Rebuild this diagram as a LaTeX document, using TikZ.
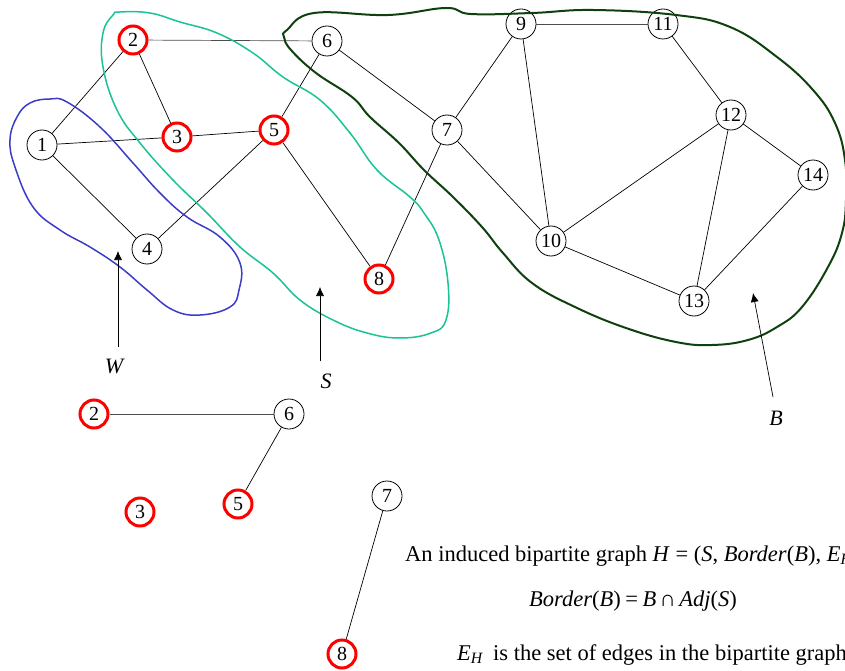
\documentclass[tikz,border=0pt]{standalone}
\usepackage{fontspec}
\setmainfont{Liberation Serif}
\usetikzlibrary{arrows.meta}
\definecolor{wblue}{RGB}{60,60,200}
\definecolor{steal}{RGB}{25,195,150}
\definecolor{bgreen}{RGB}{15,65,15}
\tikzset{
  bg/.style={x=1pt, y=-1pt, font=\fontsize{20}{22}\selectfont},
  g vert/.style={draw, circle, minimum size=30pt, inner sep=0pt, line width=0.8pt, fill=white},
  g cut/.style={g vert, draw=red, line width=3pt, minimum size=28pt},
  g edge/.style={line width=0.7pt},
  g arr/.style={-{Latex[length=9pt, width=8pt]}, line width=0.7pt},
  g set/.style={font=\fontsize{22}{24}\selectfont\itshape, inner sep=0pt},
  g blob/.style={line width=1.5pt, smooth cycle, tension=0.7},
  g txt/.style={font=\fontsize{22.5}{26}\selectfont, inner sep=0pt},
}

\begin{document}
\begin{tikzpicture}[bg]
\useasboundingbox (0,0) rectangle (845,671);
\clip (0,0) rectangle (845,671);
% ---- graph G ----
\node[g vert] (v1)  at (42,145)  {1};
\node[g cut]  (v2)  at (133,40)  {2};
\node[g cut]  (v3)  at (177,137) {3};
\node[g vert] (v4)  at (147,249) {4};
\node[g cut]  (v5)  at (274,130) {5};
\node[g vert] (v6)  at (327,41)  {6};
\node[g vert] (v7)  at (447,130) {7};
\node[g cut]  (v8)  at (379,279) {8};
\node[g vert] (v9)  at (521,24)  {9};
\node[g vert] (v10) at (551,241) {10};
\node[g vert] (v11) at (663,24)  {11};
\node[g vert] (v12) at (731,115) {12};
\node[g vert] (v13) at (694,301) {13};
\node[g vert] (v14) at (813,175) {14};
\draw[g edge, black!70] (v2)--(v6); \draw[g edge] (v2)--(v1); \draw[g edge] (v2)--(v3);
\draw[g edge] (v1)--(v3); \draw[g edge] (v3)--(v5); \draw[g edge] (v1)--(v4);
\draw[g edge] (v4)--(v5); \draw[g edge] (v5)--(v6); \draw[g edge] (v5)--(v8);
\draw[g edge] (v6)--(v7); \draw[g edge] (v7)--(v8); \draw[g edge] (v7)--(v9);
\draw[g edge] (v7)--(v10); \draw[g edge] (v9)--(v10); \draw[g edge, black!70] (v9)--(v11);
\draw[g edge] (v11)--(v12); \draw[g edge] (v12)--(v10); \draw[g edge] (v12)--(v13);
\draw[g edge] (v12)--(v14); \draw[g edge] (v10)--(v13); \draw[g edge] (v13)--(v14);
% ---- sets W, S, B ----
\draw[g blob, wblue] plot coordinates {(50,99) (67,102) (100,127) (133,163) (160,193) (187,217)
  (220,237) (240,263) (239,290) (230,307) (200,315) (173,310) (147,290) (120,267) (90,247)
  (60,230) (33,207) (15,167) (10,140) (17,117) (30,103)};
\draw[g blob, steal] plot coordinates {(120,12) (150,13) (180,22) (217,33) (253,53) (283,77)
  (320,100) (350,133) (377,170) (410,197) (424,213) (439,240) (448,283) (446,320) (431,333)
  (400,338) (367,333) (333,320) (300,300) (273,273) (240,247) (207,213) (173,180) (140,143)
  (117,110) (103,67) (103,33) (113,15)};
\draw[g blob, bgreen, line width=2pt] plot coordinates {(287,30) (314,13) (388,15) (446,8) (471,14)
  (532,13) (593,10) (676,15) (730,27) (777,57) (813,90) (835,123) (845,160) (846,200) (842,233)
  (828,267) (802,307) (777,327) (748,340) (712,345) (676,342) (626,328) (575,307) (532,283)
  (503,253) (482,227) (453,197) (424,170) (399,143) (370,117) (352,97) (316,73) (291,50) (284,37)};
\coordinate (wtail) at (118,347); \coordinate (whead) at (118,251);
\coordinate (stail) at (320,361); \coordinate (shead) at (320,287);
\coordinate (btail) at (773,397); \coordinate (bhead) at (753,293);
\draw[g arr] (wtail)--(whead); \draw[g arr] (stail)--(shead); \draw[g arr] (btail)--(bhead);
\node[g set] (wlab) at (114,366) {W};
\node[g set] (slab) at (326,381) {S};
\node[g set] (blab) at (776,418) {B};
% ---- induced bipartite graph H ----
\node[g cut]  (h2) at (94,414)  {2};
\node[g vert] (h6) at (289,414) {6};
\node[g cut]  (h5) at (238,504) {5};
\node[g cut]  (h3) at (140,512) {3};
\node[g vert] (h7) at (387,496) {7};
\node[g cut]  (h8) at (342,654) {8};
\draw[g edge, black!70] (h2)--(h6); \draw[g edge] (h6)--(h5); \draw[g edge] (h7)--(h8);
% ---- captions ----
\node[g txt, anchor=base west] (cap1) at (405,561)
  {An induced bipartite graph \textit{H} = (\textit{S}, \textit{Border}(\textit{B}), \textit{E}\textsubscript{\textit{H}}};
\node[g txt, anchor=base] (cap2) at (633,606)
  {\textit{Border}(\textit{B})\hspace{0.2em}=\hspace{0.2em}\textit{B}\hspace{0.15em}∩\hspace{0.15em}\textit{Adj}(\textit{S})};
\node[g txt, anchor=base west] (eh) at (457,660) {\textit{E}\textsubscript{\textit{H}}};
\node[g txt, anchor=base west] (cap3) at (493,660) {is the set of edges in the bipartite graph};
\end{tikzpicture}
\end{document}
